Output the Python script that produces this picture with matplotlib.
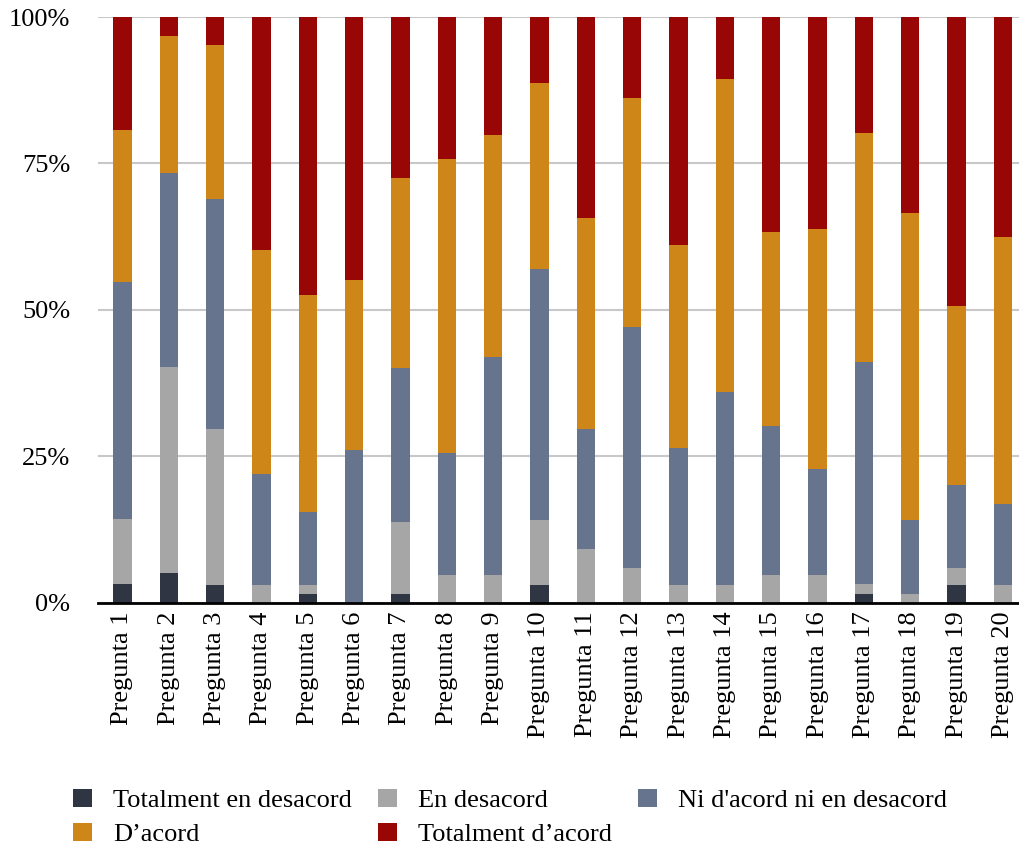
import numpy as np
import matplotlib
matplotlib.use('Agg')
import matplotlib.pyplot as plt
from matplotlib.ticker import PercentFormatter

plt.rcParams['font.family'] = ['Liberation Serif', 'DejaVu Serif']

# preguntes i percentatge de cada resposta (%)
preguntes = ['Pregunta %d' % i for i in range(1, 21)]
totalment_desacord = [3.2, 5.2, 3.0, 0, 1.6, 0, 1.6, 0, 0, 3.0,
                      0, 0, 0, 0, 0, 0, 1.6, 0, 3.0, 0]
en_desacord = [11.1, 35.1, 26.7, 3.0, 1.4, 0, 12.3, 4.7, 4.7, 11.2,
               9.2, 6.0, 3.0, 3.0, 4.7, 4.7, 1.6, 1.6, 3.0, 3.0]
ni_ni = [40.5, 33.1, 39.2, 19.0, 12.6, 26.1, 26.2, 20.9, 37.3, 42.8,
         20.5, 41.1, 23.5, 33.0, 25.5, 18.2, 37.9, 12.6, 14.2, 13.9]
dacord = [25.9, 23.4, 26.3, 38.2, 37.0, 29.0, 32.4, 50.1, 37.8, 31.8,
          36.0, 39.0, 34.6, 53.4, 33.1, 40.9, 39.1, 52.3, 30.5, 45.5]
totalment_dacord = [19.3, 3.2, 4.8, 39.8, 47.4, 44.9, 27.5, 24.3, 20.2, 11.2,
                    34.3, 13.9, 38.9, 10.6, 36.7, 36.2, 19.8, 33.5, 49.3, 37.6]

series = [
    ('Totalment en desacord', totalment_desacord, '#2f3542'),
    ('En desacord', en_desacord, '#a6a6a6'),
    ("Ni d'acord ni en desacord", ni_ni, '#67748d'),
    ('D’acord', dacord, '#cf8618'),
    ('Totalment d’acord', totalment_dacord, '#990606'),
]

fig = plt.figure(figsize=(10.2, 8.5), dpi=100)
ax = fig.add_axes([0.096, 0.2906, 0.904, 0.6894])

x = np.arange(len(preguntes))
base = np.zeros(len(preguntes))
handles = {}
for nom, vals, col in series:
    vals = np.array(vals, dtype=float)
    # barres apilades, cada segment sobre l'anterior
    handles[nom] = ax.bar(x, vals, bottom=base, width=0.4, color=col,
                          label=nom, zorder=2)
    base += vals

ax.set_ylim(0, 100)
ax.set_xlim(-0.53, len(preguntes) - 0.63)
ax.set_yticks([0, 25, 50, 75, 100])
ax.yaxis.set_major_formatter(PercentFormatter(decimals=0))
ax.set_xticks(x)
ax.set_xticklabels(preguntes, rotation=90)
ax.tick_params(axis='both', length=0, labelsize=19)
ax.tick_params(axis='y', pad=20)
ax.tick_params(axis='x', pad=6)
ax.yaxis.grid(True, color='#c8c8c8', linewidth=1.5, zorder=0)
ax.set_axisbelow(True)
for s in ['top', 'right', 'left']:
    ax.spines[s].set_visible(False)
ax.spines['bottom'].set_linewidth(2)
ax.spines['bottom'].set_zorder(3)

# ordre per columnes perquè la llegenda es llegeixi per files
ordre = ['Totalment en desacord', 'D’acord', 'En desacord',
         'Totalment d’acord', "Ni d'acord ni en desacord"]
fig.legend([handles[k] for k in ordre], ordre, loc='center',
           bbox_to_anchor=(0.5, 0.038), ncol=3, frameon=False, fontsize=19,
           handlelength=0.7, handleheight=0.7, handletextpad=0.8,
           columnspacing=1.0, labelspacing=0.4)

fig.savefig('out.png', dpi=100)
